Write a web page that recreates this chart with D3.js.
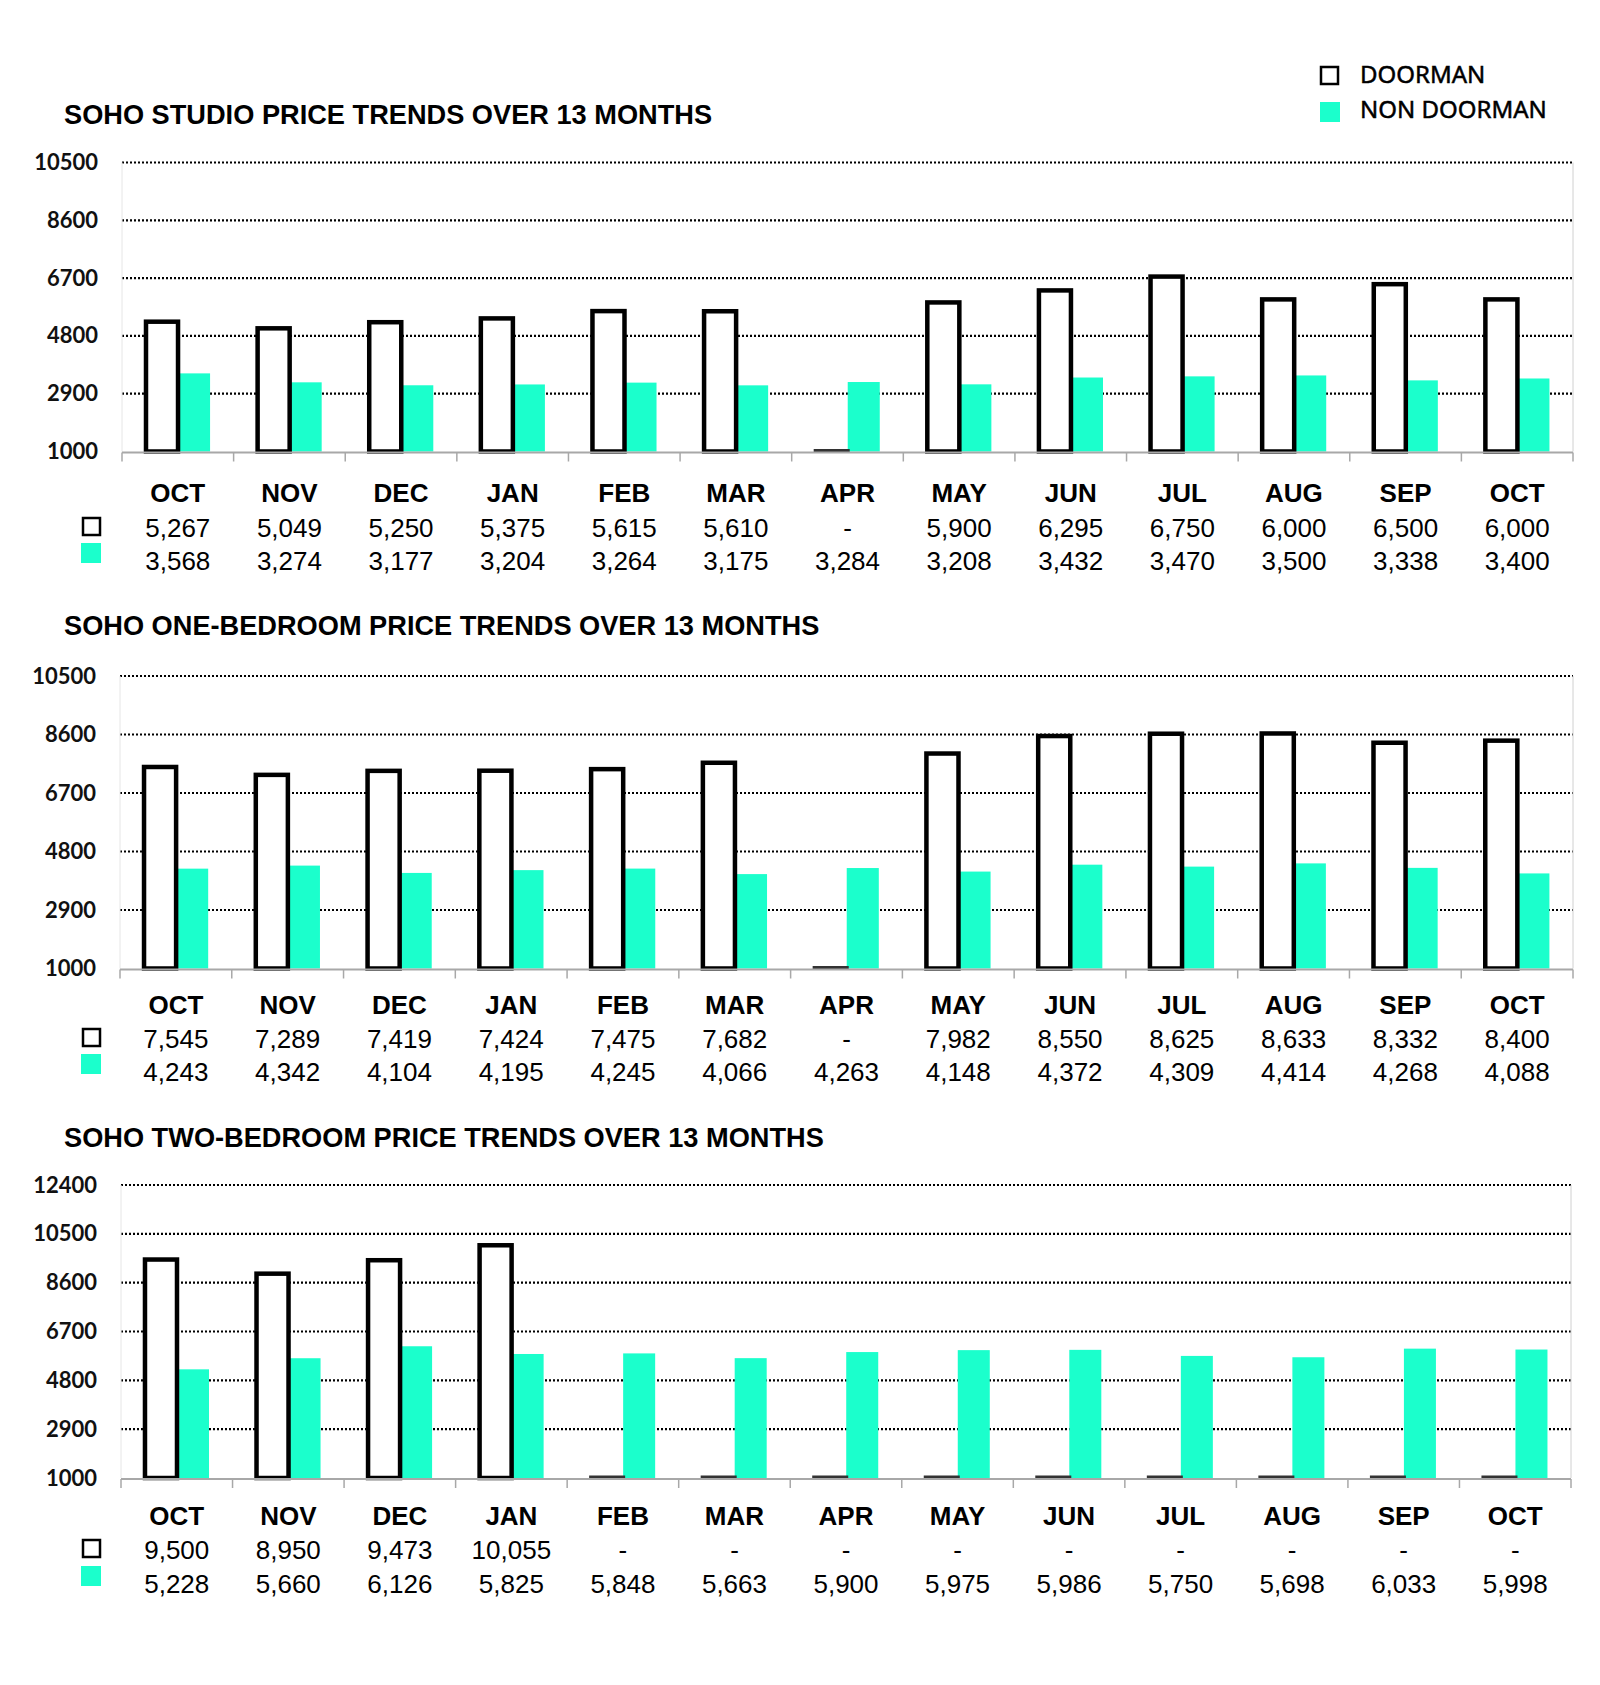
<!DOCTYPE html>
<html>
<head>
<meta charset="utf-8">
<script src="https://cdn.jsdelivr.net/npm/d3@7"></script>
<style>
  html, body { margin: 0; padding: 0; background: #fff; }
  svg { display: block; }
</style>
</head>
<body>
<svg id="chart" width="1600" height="1685"></svg>
<script>
// ---------- DATA ----------
const months = ["OCT","NOV","DEC","JAN","FEB","MAR","APR","MAY","JUN","JUL","AUG","SEP","OCT"];
const seriesNames = ["DOORMAN", "NON DOORMAN"];

const studioTitle = "SOHO STUDIO PRICE TRENDS OVER 13 MONTHS";
const studioDoorman = [5267,5049,5250,5375,5615,5610,null,5900,6295,6750,6000,6500,6000];
const studioNonDoorman = [3568,3274,3177,3204,3264,3175,3284,3208,3432,3470,3500,3338,3400];
const studioTicks = [1000,2900,4800,6700,8600,10500];

const oneBedTitle = "SOHO ONE-BEDROOM PRICE TRENDS OVER 13 MONTHS";
const oneBedDoorman = [7545,7289,7419,7424,7475,7682,null,7982,8550,8625,8633,8332,8400];
const oneBedNonDoorman = [4243,4342,4104,4195,4245,4066,4263,4148,4372,4309,4414,4268,4088];
const oneBedTicks = [1000,2900,4800,6700,8600,10500];

const twoBedTitle = "SOHO TWO-BEDROOM PRICE TRENDS OVER 13 MONTHS";
const twoBedDoorman = [9500,8950,9473,10055,null,null,null,null,null,null,null,null,null];
const twoBedNonDoorman = [5228,5660,6126,5825,5848,5663,5900,5975,5986,5750,5698,6033,5998];
const twoBedTicks = [1000,2900,4800,6700,8600,10500,12400];

// ---------- STYLE / LAYOUT ----------
const TEAL = "#1BFFCC";
const svg = d3.select("#chart");
const fmt = d3.format(",");

const charts = [
  { title: studioTitle, door: studioDoorman, non: studioNonDoorman, ticks: studioTicks,
    titleY: 124, top: 162.5, base: 451.5, left: 122, right: 1573, monthY: 502, v1Y: 537, v2Y: 570 },
  { title: oneBedTitle, door: oneBedDoorman, non: oneBedNonDoorman, ticks: oneBedTicks,
    titleY: 635, top: 676, base: 968.5, left: 120, right: 1573, monthY: 1014, v1Y: 1048, v2Y: 1081 },
  { title: twoBedTitle, door: twoBedDoorman, non: twoBedNonDoorman, ticks: twoBedTicks,
    titleY: 1147, top: 1185, base: 1478, left: 121, right: 1571, monthY: 1525, v1Y: 1559, v2Y: 1593 }
];

// Legend
const lg = svg.append("g");
lg.append("rect").attr("x", 1321).attr("y", 67).attr("width", 17).attr("height", 17)
  .attr("fill", "#fff").attr("stroke", "#000").attr("stroke-width", 2.5);
lg.append("rect").attr("x", 1320).attr("y", 102).attr("width", 20).attr("height", 20)
  .attr("fill", TEAL);
lg.selectAll("text.lg").data(seriesNames).join("text")
  .attr("x", 1360).attr("y", (d, i) => i === 0 ? 83 : 118)
  .attr("font-family", "'Noto Sans', sans-serif").attr("font-size", 24)
  .attr("fill", "#000").attr("stroke", "#000").attr("stroke-width", 0.5)
  .text(d => d);

charts.forEach(c => {
  const g = svg.append("g");
  const x = d3.scaleBand().domain(d3.range(months.length)).range([c.left, c.right]).padding(0);
  const y = d3.scaleLinear().domain([c.ticks[0], c.ticks[c.ticks.length - 1]]).range([c.base, c.top]);
  const bw = x.bandwidth();
  const barW = bw * 0.287;
  const off = bw * 0.215;

  // Title
  g.append("text").attr("x", 64).attr("y", c.titleY)
    .attr("font-family", "'Liberation Sans', Arial, sans-serif").attr("font-weight", "bold")
    .attr("font-size", 27.2).attr("fill", "#000").text(c.title);

  // Gridlines
  g.selectAll("line.grid").data(c.ticks.slice(1)).join("line")
    .attr("x1", c.left).attr("x2", c.right)
    .attr("y1", d => y(d)).attr("y2", d => y(d))
    .attr("stroke", "#000").attr("stroke-width", 2.2).attr("stroke-dasharray", "2,2");

  // Faint frame lines
  g.append("line").attr("x1", c.left).attr("x2", c.left).attr("y1", c.top).attr("y2", c.base)
    .attr("stroke", "#e6e6e6").attr("stroke-width", 1);
  g.append("line").attr("x1", c.right).attr("x2", c.right).attr("y1", c.top).attr("y2", c.base)
    .attr("stroke", "#d0d0d0").attr("stroke-width", 1);

  // Y axis via d3.axisLeft (labels only)
  const yAxis = g.append("g").attr("transform", `translate(${c.left - 24},0)`)
    .call(d3.axisLeft(y).tickValues(c.ticks).tickSize(0).tickPadding(0).tickFormat(d3.format("d")));
  yAxis.select(".domain").remove();
  yAxis.selectAll("text")
    .attr("font-family", "Lato, 'Open Sans', sans-serif").attr("font-weight", "bold")
    .attr("font-size", 22).attr("fill", "#111");

  // Non-doorman bars
  g.selectAll("rect.non").data(c.non).join("rect")
    .attr("x", (d, i) => x(i) + off + barW)
    .attr("y", d => y(d))
    .attr("width", barW)
    .attr("height", d => c.base - y(d))
    .attr("fill", TEAL);

  // Doorman bars
  const doorData = c.door.map((v, i) => ({ v, i }));
  g.selectAll("rect.door").data(doorData.filter(d => d.v != null)).join("rect")
    .attr("x", d => x(d.i) + off)
    .attr("y", d => y(d.v))
    .attr("width", barW)
    .attr("height", d => c.base - y(d.v))
    .attr("fill", "#fff").attr("stroke", "#000").attr("stroke-width", 4.5);
  g.selectAll("line.doorMissing").data(doorData.filter(d => d.v == null)).join("line")
    .attr("x1", d => x(d.i) + off - 2).attr("x2", d => x(d.i) + off + barW + 2)
    .attr("y1", c.base - 1).attr("y2", c.base - 1)
    .attr("stroke", "#333").attr("stroke-width", 3);

  // Baseline with category ticks
  g.append("line").attr("x1", c.left).attr("x2", c.right).attr("y1", c.base + 1).attr("y2", c.base + 1)
    .attr("stroke", "#a8a8a8").attr("stroke-width", 2);
  const bounds = d3.range(months.length).map(i => x(i)).concat([c.right]);
  g.selectAll("line.tick").data(bounds).join("line")
    .attr("x1", d => d).attr("x2", d => d)
    .attr("y1", c.base + 1).attr("y2", c.base + 10)
    .attr("stroke", "#a8a8a8").attr("stroke-width", 1.5);

  // Table: month labels
  g.selectAll("text.month").data(months).join("text")
    .attr("x", (d, i) => x(i) + bw / 2).attr("y", c.monthY)
    .attr("text-anchor", "middle")
    .attr("font-family", "'Liberation Sans', Arial, sans-serif").attr("font-weight", "bold")
    .attr("font-size", 26).attr("fill", "#000").text(d => d);

  // Table: values
  g.selectAll("text.v1").data(c.door).join("text")
    .attr("x", (d, i) => x(i) + bw / 2).attr("y", c.v1Y)
    .attr("text-anchor", "middle")
    .attr("font-family", "'Liberation Sans', Arial, sans-serif")
    .attr("font-size", 26).attr("fill", "#000").text(d => d == null ? "-" : fmt(d));
  g.selectAll("text.v2").data(c.non).join("text")
    .attr("x", (d, i) => x(i) + bw / 2).attr("y", c.v2Y)
    .attr("text-anchor", "middle")
    .attr("font-family", "'Liberation Sans', Arial, sans-serif")
    .attr("font-size", 26).attr("fill", "#000").text(d => d == null ? "-" : fmt(d));

  // Table markers
  g.append("rect").attr("x", 83).attr("y", c.v1Y - 19).attr("width", 17).attr("height", 17)
    .attr("fill", "#fff").attr("stroke", "#000").attr("stroke-width", 2.5);
  g.append("rect").attr("x", 81).attr("y", c.v2Y - 27).attr("width", 20).attr("height", 20)
    .attr("fill", TEAL);
});
</script>
</body>
</html>
